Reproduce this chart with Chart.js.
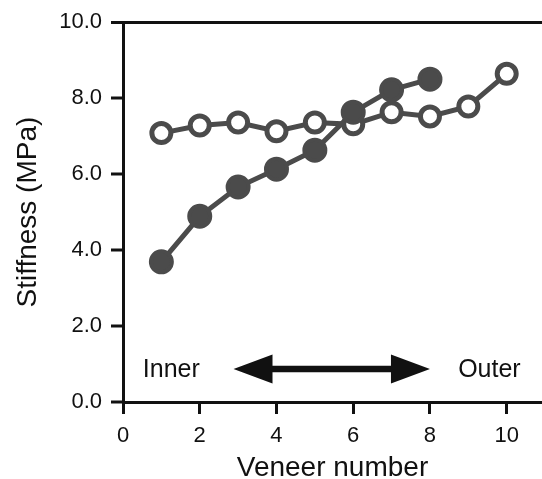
<!DOCTYPE html>
<html>
<head>
<meta charset="utf-8">
<script src="https://cdn.jsdelivr.net/npm/chart.js@4/dist/chart.umd.min.js"></script>
<style>
html,body{margin:0;padding:0;background:#fff;overflow:hidden;}
canvas{display:block;}
</style>
</head>
<body>
<canvas id="c" width="542" height="479" style="width:542px;height:479px"></canvas>
<script>
// ---- data ----
const veneerFilled = [1, 2, 3, 4, 5, 6, 7, 8];
const stiffnessFilled = [3.69, 4.89, 5.66, 6.13, 6.63, 7.63, 8.22, 8.50];
const veneerOpen = [1, 2, 3, 4, 5, 6, 7, 8, 9, 10];
const stiffnessOpen = [7.08, 7.28, 7.36, 7.13, 7.36, 7.31, 7.63, 7.52, 7.78, 8.64];
const xTicks = [0, 2, 4, 6, 8, 10];
const yTicks = [0, 2, 4, 6, 8, 10];
const arrowX = [2.88, 8.0];
const arrowY = 0.87;
const labelTexts = ['Inner', 'Outer'];
const labelX = [1.26, 9.55];
const labelY = 0.87;

const FONT = "'Liberation Sans', Arial, sans-serif";
const GREY = '#4b4b4b';

const annot = {
  id: 'annot',
  afterDatasetsDraw(chart) {
    const ctx = chart.ctx, xs = chart.scales.x, ys = chart.scales.y;
    const x1 = xs.getPixelForValue(arrowX[0]), x2 = xs.getPixelForValue(arrowX[1]);
    const y = ys.getPixelForValue(arrowY);
    const headL = 39, headH = 14.5, shaft = 3.2;
    ctx.save();
    ctx.fillStyle = '#111';
    ctx.beginPath();
    ctx.moveTo(x1, y);
    ctx.lineTo(x1 + headL, y - headH);
    ctx.lineTo(x1 + headL, y - shaft);
    ctx.lineTo(x2 - headL, y - shaft);
    ctx.lineTo(x2 - headL, y - headH);
    ctx.lineTo(x2, y);
    ctx.lineTo(x2 - headL, y + headH);
    ctx.lineTo(x2 - headL, y + shaft);
    ctx.lineTo(x1 + headL, y + shaft);
    ctx.lineTo(x1 + headL, y + headH);
    ctx.closePath();
    ctx.fill();
    ctx.font = '25px ' + FONT;
    ctx.textAlign = 'center';
    ctx.textBaseline = 'middle';
    ctx.fillStyle = '#111';
    labelTexts.forEach((t, i) => {
      ctx.fillText(t, xs.getPixelForValue(labelX[i]), ys.getPixelForValue(labelY) + 1);
    });
    ctx.restore();
  }
};

new Chart(document.getElementById('c'), {
  type: 'line',
  data: {
    datasets: [
      {
        data: veneerFilled.map((v, i) => ({x: v, y: stiffnessFilled[i]})),
        borderColor: GREY, backgroundColor: GREY,
        borderWidth: 5, pointRadius: 10.5, pointBorderWidth: 4,
        pointBackgroundColor: GREY, pointBorderColor: GREY, tension: 0
      },
      {
        data: veneerOpen.map((v, i) => ({x: v, y: stiffnessOpen[i]})),
        borderColor: GREY, backgroundColor: '#fff',
        borderWidth: 5, pointRadius: 9.5, pointBorderWidth: 5,
        pointBackgroundColor: '#fff', pointBorderColor: GREY, tension: 0
      }
    ]
  },
  options: {
    responsive: false,
    animation: false,
    events: [],
    layout: {autoPadding: false, padding: {top: 22, right: 0, bottom: 0, left: 0}},
    plugins: {legend: {display: false}, tooltip: {enabled: false}},
    scales: {
      x: {
        type: 'linear', min: 0, max: 10.92,
        afterBuildTicks(s) { s.ticks = xTicks.map(v => ({value: v})); },
        afterFit(s) { s.height = 77; },
        ticks: {font: {family: FONT, size: 22}, color: '#111', padding: 9,
                callback: v => String(v)},
        grid: {drawOnChartArea: false, drawTicks: true, tickLength: 12, tickWidth: 3, tickColor: '#111'},
        border: {display: true, color: '#111', width: 3},
        title: {display: true, text: 'Veneer number', font: {family: FONT, size: 28, lineHeight: 0.8}, color: '#111', padding: {top: 0, bottom: 0}}
      },
      y: {
        type: 'linear', min: 0, max: 10,
        afterBuildTicks(s) { s.ticks = yTicks.map(v => ({value: v})); },
        afterFit(s) { s.width = 123; },
        ticks: {font: {family: FONT, size: 22}, color: '#111', padding: 9,
                callback: v => v.toFixed(1)},
        grid: {
          drawOnChartArea: true, drawTicks: true, tickLength: 12, tickWidth: 3, tickColor: '#111',
          color: c => (c.tick && c.tick.value === 10) ? '#111' : 'rgba(0,0,0,0)',
          lineWidth: c => (c.tick && c.tick.value === 10) ? 3 : 0
        },
        border: {display: true, color: '#111', width: 3},
        title: {display: true, text: 'Stiffness (MPa)', font: {family: FONT, size: 28}, color: '#111', padding: {top: 11, bottom: 0}}
      }
    }
  },
  plugins: [annot]
});
</script>
</body>
</html>
